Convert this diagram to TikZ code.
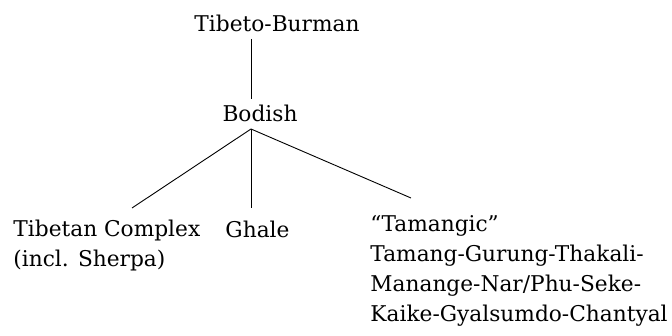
\documentclass[tikz,border=0pt]{standalone}
\usepackage{fontspec}
\setmainfont{DejaVu Serif}

\tikzset{lang/.style={inner sep=0pt, align=left, font=\fontsize{21.7}{30}\selectfont}}

\begin{document}
\begin{tikzpicture}[x=1pt,y=-1pt,line width=0.9pt]

                \useasboundingbox (0,0) rectangle (672,336);
                \node[lang, anchor=base] (tb) at (277,32) {Tibeto-Burman};
                \node[lang, anchor=base] (bod) at (260,122) {Bodish};
                \node[lang, anchor=base west] (tc) at (13,267) {Tibetan Complex\\(incl. Sherpa)};
                \node[lang, anchor=base west] (gh) at (225,238) {Ghale};
                \node[lang, anchor=base west] (tam) at (370,322) {``Tamangic''\\Tamang-Gurung-Thakali-\\Manange-Nar/Phu-Seke-\\Kaike-Gyalsumdo-Chantyal};
                \coordinate (tbfoot) at (251,39);
                \coordinate (bodtop) at (251,99);
                \coordinate (bodfoot) at (251,129);
                \coordinate (tcend) at (132,208);
                \coordinate (ghend) at (251,208);
                \coordinate (tamend) at (411,198);
                \draw (tbfoot) -- (bodtop);
                \draw (bodfoot) -- (tcend);
                \draw (bodfoot) -- (ghend);
                \draw (bodfoot) -- (tamend);
            \end{tikzpicture}
\end{document}
